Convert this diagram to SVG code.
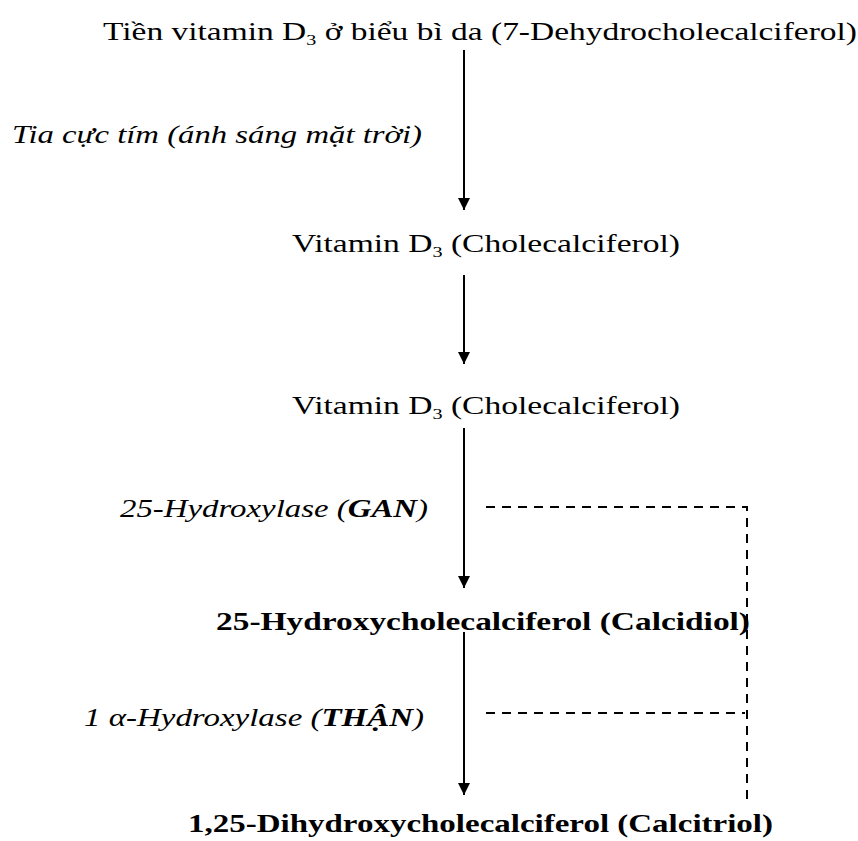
<svg xmlns="http://www.w3.org/2000/svg" width="858" height="841" viewBox="0 0 858 841">
<style>
  text { font-family: "Liberation Serif", "Times New Roman", serif; font-size: 25px; fill: #000; }
  .it { font-style: italic; }
  .b { font-weight: bold; }
  .sub { font-size: 15px; }
  .arrow { stroke: #000; stroke-width: 2; fill: none; }
  .dash { stroke: #000; stroke-width: 2; fill: none; stroke-dasharray: 9 7; }
</style>
<defs>
  <marker id="ah2" markerWidth="12" markerHeight="12" refX="12" refY="6" orient="auto" markerUnits="userSpaceOnUse">
    <path d="M0,0 L12,6 L0,12 Z" fill="#000"/>
  </marker>
</defs>

<g id="n1">
  <text x="103" y="40" textLength="754" lengthAdjust="spacingAndGlyphs">Tiền vitamin D<tspan class="sub" dy="5">3</tspan><tspan dy="-5"> ở biểu bì da (7-Dehydrocholecalciferol)</tspan></text>
</g>
<g id="l1">
  <text class="it" x="12" y="143" textLength="410" lengthAdjust="spacingAndGlyphs">Tia cực tím (ánh sáng mặt trời)</text>
</g>
<g id="n2">
  <text x="292" y="252" textLength="388" lengthAdjust="spacingAndGlyphs">Vitamin D<tspan class="sub" dy="5">3</tspan><tspan dy="-5"> (Cholecalciferol)</tspan></text>
</g>
<g id="n3">
  <text x="292" y="414" textLength="388" lengthAdjust="spacingAndGlyphs">Vitamin D<tspan class="sub" dy="5">3</tspan><tspan dy="-5"> (Cholecalciferol)</tspan></text>
</g>
<g id="l2">
  <text class="it" x="120" y="517" textLength="308" lengthAdjust="spacingAndGlyphs">25-Hydroxylase (<tspan class="b">GAN</tspan>)</text>
</g>
<g id="n4">
  <text class="b" x="216" y="630" textLength="534" lengthAdjust="spacingAndGlyphs">25-Hydroxycholecalciferol (Calcidiol)</text>
</g>
<g id="l3">
  <text class="it" x="84" y="726" textLength="340" lengthAdjust="spacingAndGlyphs">1 α-Hydroxylase (<tspan class="b">THẬN</tspan>)</text>
</g>
<g id="n5">
  <text class="b" x="188" y="832" textLength="585" lengthAdjust="spacingAndGlyphs">1,25-Dihydroxycholecalciferol (Calcitriol)</text>
</g>

<g id="connectors">
  <line class="arrow" x1="464" y1="50" x2="464" y2="210" marker-end="url(#ah2)"/>
  <line class="arrow" x1="464" y1="275" x2="464" y2="364" marker-end="url(#ah2)"/>
  <line class="arrow" x1="464" y1="428" x2="464" y2="588" marker-end="url(#ah2)"/>
  <line class="arrow" x1="464" y1="632" x2="464" y2="795" marker-end="url(#ah2)"/>
  <polyline class="dash" points="486,507 747,507 747,806"/>
  <line class="dash" x1="486" y1="713" x2="745" y2="713"/>
</g>
</svg>
